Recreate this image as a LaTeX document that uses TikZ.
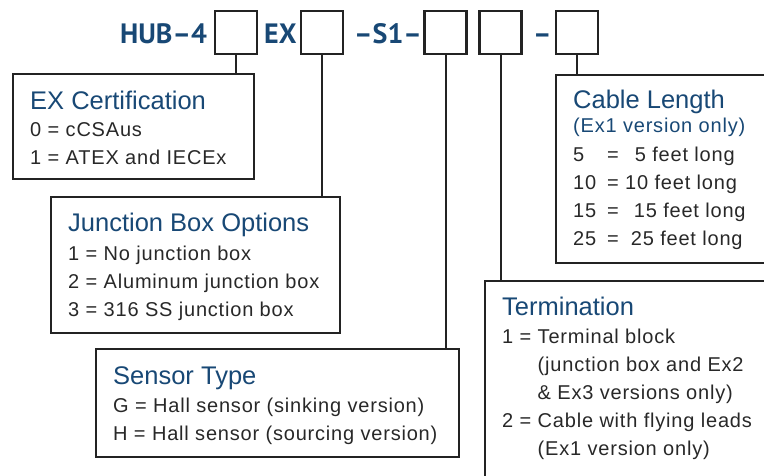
\documentclass[tikz,border=0pt]{standalone}
\usepackage{fontspec}
\setmainfont{Liberation Sans}
\newfontfamily\bodyfont[LetterSpace=4]{Liberation Sans}
\newfontfamily\partfont{PT Sans}
\usetikzlibrary{positioning}
\definecolor{hubblue}{RGB}{24,72,117}
\definecolor{txtgray}{RGB}{40,40,40}
\definecolor{linegray}{RGB}{35,35,35}

\tikzset{
  digit/.style={draw=linegray, line width=2.6pt, minimum width=42pt, minimum height=43pt, inner sep=0pt},
  part/.style={font=\partfont\bfseries\fontsize{28}{28}\selectfont, text=hubblue, inner sep=0pt, anchor=base west},
  optbox/.style={draw=linegray, line width=2.4pt, anchor=north west, inner sep=0pt},
  opttitle/.style={font=\fontsize{25.5}{28}\selectfont, text=hubblue, inner sep=0pt, anchor=base west},
  optbody/.style={font=\bodyfont\fontsize{20}{28}\selectfont, text=txtgray, inner sep=0pt, anchor=north west, align=left},
  link/.style={draw=linegray, line width=2pt}
}

\begin{document}
\begin{tikzpicture}[x=1pt,y=-1pt]
    \useasboundingbox (0,0) rectangle (764,476);
    \clip (0,0) rectangle (764,476);

    % part number
    \node[part] (hub) at (120,43.5) {HUB\textendash 4};
    \node[digit] (d1) at (236,32.5) {};
    \node[part] (ex) at (264,43.5) {EX};
    \node[digit] (d2) at (322,32.5) {};
    \node[part] (s1) at (354,43.5) {\textendash S1\textendash};
    \node[digit] (d3) at (445.5,32.5) {};
    \node[digit] (d4) at (500.5,32.5) {};
    \node[part] (sep) at (533,43.5) {\textendash};
    \node[digit] (d5) at (577,32.5) {};

    % option boxes
    \node[optbox, minimum width=241pt, minimum height=105pt] (excert) at (12,73) {};
    \node[opttitle] (excerttitle) at (30,110) {EX Certification};
    \node[optbody] (excertbody) at (30,122.5) {0 = cCSAus\\1 = ATEX and IECEx};

    \node[optbox, minimum width=289pt, minimum height=136pt] (junc) at (50,196) {};
    \node[opttitle] (junctitle) at (68,232) {Junction Box Options};
    \node[optbody] (juncbody) at (68,245.5) {1 = No junction box\\2 = Aluminum junction box\\3 = 316 SS junction box};

    \node[optbox, minimum width=363pt, minimum height=108pt] (sensor) at (95,348) {};
    \node[opttitle] (sensortitle) at (113,384) {Sensor Type};
    \node[optbody] (sensorbody) at (113,397.5) {G = Hall sensor (sinking version)\\H = Hall sensor (sourcing version)};

    \node[optbox, minimum width=300pt, minimum height=220pt] (term) at (484,280) {};
    \node[opttitle] (termtitle) at (502,315) {Termination};
    \node[optbody] (termbody) at (502,328.5) {1 = Terminal block\\\phantom{1 = }(junction box and Ex2\\\phantom{1 = }\& Ex3 versions only)\\2 = Cable with flying leads\\\phantom{2 = }(Ex1 version only)};

    \node[optbox, minimum width=215pt, minimum height=188pt] (cable) at (555,74) {};
    \node[opttitle] (cabletitle) at (573,109) {Cable Length};
    \node[optbody, text=hubblue, anchor=base west] (cablesub) at (573,133) {(Ex1 version only)};
    \node[optbody] (cablebody) at (573,146.5) {\makebox[34pt][l]{5}=\hspace{16pt}5 feet long\\\makebox[34pt][l]{10}= 10 feet long\\\makebox[34pt][l]{15}=\hspace{15pt}15 feet long\\\makebox[34pt][l]{25}=\hspace{12pt}25 feet long};

    % connectors
    \draw[link] (d1.south) -- (d1.south |- excert.north);
    \draw[link] (d2.south) -- (d2.south |- junc.north);
    \draw[link] (d3.south) -- (d3.south |- sensor.north);
    \draw[link] (d4.south) -- (d4.south |- term.north);
    \draw[link] (d5.south) -- (d5.south |- cable.north);
\end{tikzpicture}
\end{document}
